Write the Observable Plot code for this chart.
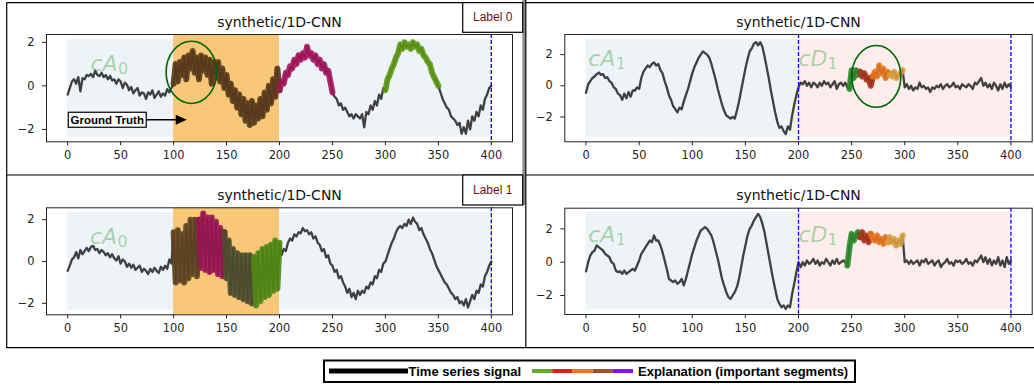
<!DOCTYPE html>
<html><head><meta charset="utf-8">
<script src="https://cdn.jsdelivr.net/npm/d3@7"></script>
<script src="https://cdn.jsdelivr.net/npm/@observablehq/plot@0.6"></script>
<style>
body{margin:0;background:#fff;}
#root{position:relative;width:1034px;height:385px;overflow:hidden;background:#fff;}
#root svg{position:absolute;}
</style></head><body><div id="root"></div><script>
// ---------- data ----------
const timeSteps = d3.range(0, 401, 2);
const xTicks = [0, 50, 100, 150, 200, 250, 300, 350, 400];
const yTicks = [-2, 0, 2];
const titleText = "synthetic/1D-CNN";

// top-left (Label 0), cA0
const signalA = [
 -0.4,-0.1,0.2,0.3,0.1,0.4,-0.25,0.35,0.3,0.5,
 0.45,0.55,0.4,0.7,0.5,0.45,0.6,0.4,0.5,0.3,
 0.45,0.25,0.3,0.1,0.3,0.2,-0.1,0.15,0.05,-0.2,
 -0.05,-0.35,-0.2,-0.1,-0.45,-0.3,-0.35,-0.6,-0.3,-0.4,
 -0.2,-0.55,-0.4,-0.25,-0.5,-0.35,-0.45,-0.15,-0.3,-0.1,
 0.1,1.0,0.2,1.1,0.5,1.3,0.3,1.4,0.8,1.6,
 0.6,1.3,0.3,1.4,0.7,1.3,0.5,1.2,0.1,1.1,
 0.4,1.1,0.2,0.8,-0.1,0.5,-0.4,0.1,-0.7,-0.2,
 -1.0,-0.4,-1.3,-0.6,-1.6,-0.8,-1.8,-0.7,-1.7,-0.9,
 -1.5,-0.6,-1.4,-0.3,-1.1,0.0,-0.8,0.3,-0.5,0.8,
 -0.2,0.2,0.1,0.6,0.5,0.9,0.8,1.2,1.0,1.4,
 1.2,1.5,1.3,1.8,1.4,1.5,1.2,1.4,1.0,1.2,
 0.8,1.0,0.6,0.7,0.2,-0.3,-0.5,-0.6,-0.9,-0.8,
 -1.1,-1.0,-1.2,-1.4,-1.3,-1.5,-1.3,-1.4,-1.5,-1.3,
 -1.9,-1.2,-1.3,-0.9,-1.1,-0.7,-0.9,-0.4,-0.6,-0.1,
 -0.2,0.3,0.5,0.8,1.0,1.3,1.5,1.9,1.7,2.0,
 1.8,1.9,1.7,2.0,1.8,1.9,1.6,1.7,1.4,1.3,
 1.1,1.0,0.6,0.4,0.2,0.0,-0.3,-0.6,-0.8,-1.0,
 -1.1,-1.4,-1.5,-1.6,-1.8,-1.7,-2.2,-1.9,-2.2,-1.6,
 -2.0,-1.4,-1.6,-1.2,-1.4,-0.9,-1.1,-0.6,-0.4,-0.1,
 0.0];

// top-right (cA1 | cD1)
const signalB = [
 -0.45,0.1,0.3,0.5,0.6,0.75,0.85,0.7,0.75,0.5,
 0.55,0.3,0.2,-0.1,-0.2,-0.5,-0.6,-0.9,-0.5,-0.8,
 -0.4,-0.7,-0.3,-0.3,-0.1,-0.2,0.5,0.9,1.1,1.3,
 1.2,1.4,1.5,1.3,1.4,1.0,0.8,0.3,-0.1,-0.6,
 -0.9,-1.3,-1.5,-1.7,-1.4,-1.5,-1.0,-0.6,-0.2,0.3,
 0.8,1.2,1.5,1.8,2.0,2.2,2.1,2.0,1.8,1.4,
 0.9,0.4,-0.2,-0.7,-1.2,-1.6,-1.9,-2.0,-2.1,-2.0,
 -2.1,-1.6,-1.0,-0.3,0.4,1.1,1.7,2.2,2.4,2.7,
 2.8,2.6,2.8,2.5,1.9,1.2,0.5,-0.3,-1.0,-1.7,
 -2.3,-2.7,-2.6,-2.9,-3.1,-2.6,-2.8,-1.9,-1.2,-0.6,
 -0.1,0.2,0.1,0.3,0.0,0.2,-0.1,0.2,0.1,-0.1,
 0.2,0.0,0.3,0.1,0.2,-0.1,0.1,0.3,-0.2,0.1,
 0.2,0.0,0.2,-0.1,-0.2,1.0,0.5,1.0,0.7,0.9,
 0.6,0.8,0.4,0.5,0.0,0.6,0.9,0.6,1.3,0.8,
 1.1,0.5,0.9,0.7,0.6,0.9,0.5,0.7,0.8,1.0,
 -0.1,0.1,-0.2,0.0,-0.3,-0.1,-0.2,0.2,-0.1,0.0,
 -0.2,-0.1,-0.4,-0.1,-0.2,0.0,-0.1,0.1,-0.2,0.0,
 0.1,-0.1,0.0,0.2,-0.1,0.0,-0.2,0.1,0.0,-0.1,
 0.1,0.0,-0.2,0.2,0.1,0.3,0.5,0.0,0.2,-0.1,
 0.1,-0.2,0.2,0.0,-0.3,0.1,-0.2,0.2,-0.1,0.1,
 -0.1];

// bottom-left (Label 1), cA0
const signalC = [
 -0.45,-0.2,0.1,0.2,0.45,0.15,0.55,0.35,0.5,0.65,
 0.5,0.7,0.75,0.55,0.6,0.4,0.55,0.45,0.3,0.4,
 0.2,0.35,0.15,0.05,0.25,-0.1,0.1,0.0,-0.25,-0.1,
 -0.3,-0.15,-0.4,-0.3,-0.2,-0.5,-0.35,-0.45,-0.6,-0.35,
 -0.5,-0.3,-0.45,-0.55,-0.25,-0.4,-0.2,-0.35,0.1,-0.1,
 1.4,-1.0,1.5,-0.9,1.3,-1.0,1.7,-0.8,2.0,-0.6,
 2.0,-0.7,2.0,-0.3,2.3,-0.4,2.1,-0.5,2.1,-0.4,
 1.9,-0.6,1.6,-0.7,1.4,-0.8,1.0,-1.5,0.6,-1.6,
 0.4,-1.7,0.3,-1.8,0.3,-1.9,0.3,-2.0,0.2,-2.1,
 0.4,-1.9,0.6,-1.7,0.7,-1.6,0.8,-1.4,1.0,-1.3,
 0.9,0.3,0.6,0.5,0.9,1.1,1.0,1.3,1.2,1.4,
 1.35,1.6,1.45,1.5,1.3,1.4,1.1,1.2,0.9,0.8,
 0.5,0.6,0.2,0.3,-0.1,-0.2,-0.5,-0.4,-0.8,-0.7,
 -1.0,-1.2,-1.5,-1.3,-1.7,-1.5,-1.8,-1.4,-1.6,-1.4,
 -1.5,-1.2,-1.3,-1.0,-1.1,-0.7,-0.8,-0.4,-0.5,-0.1,
 0.0,0.3,0.6,0.9,1.1,1.4,1.6,1.7,1.6,1.8,
 1.7,2.0,1.8,2.1,1.9,1.8,1.5,1.6,1.3,1.1,
 0.9,0.6,0.4,0.1,-0.2,-0.4,-0.6,-0.8,-1.0,-1.1,
 -1.3,-1.5,-1.6,-1.8,-1.7,-2.0,-1.9,-2.1,-1.8,-2.2,
 -1.9,-1.6,-1.8,-1.4,-1.5,-1.1,-1.2,-0.7,-0.5,-0.2,
 0.0];

// bottom-right (cA1 | cD1)
const signalD = [
 -0.55,0.0,0.4,0.6,0.7,1.0,0.9,0.8,0.7,0.5,
 0.4,0.3,0.0,-0.1,-0.5,-0.6,-0.55,-0.7,-0.5,-0.7,
 -0.6,-0.5,-0.4,-0.5,-0.2,0.1,0.5,0.7,0.9,1.1,
 1.3,1.2,1.6,1.3,1.3,1.0,0.6,0.1,-0.4,-1.0,
 -1.1,-1.2,-1.1,-1.3,-1.2,-1.0,-1.4,-1.0,-0.5,0.0,
 0.5,0.9,1.3,1.6,1.9,2.0,2.1,2.0,1.8,1.6,
 1.2,0.7,0.2,-0.4,-1.0,-1.4,-1.8,-2.1,-2.2,-2.0,
 -1.8,-1.5,-1.0,-0.3,0.4,1.0,1.6,2.0,2.2,2.5,
 2.7,2.9,2.7,2.3,1.8,1.1,0.4,-0.3,-1.0,-1.6,
 -2.2,-2.5,-2.7,-2.6,-2.8,-2.6,-2.7,-1.9,-1.3,-0.6,
 0.0,-0.3,0.0,-0.2,0.1,-0.1,0.0,0.2,-0.1,0.1,
 -0.2,0.0,-0.1,0.2,0.0,-0.2,0.1,-0.1,0.2,-0.1,
 0.0,0.1,0.0,-0.2,0.9,1.7,1.3,1.6,1.8,1.5,
 1.8,1.3,1.6,1.2,1.7,1.4,1.3,1.6,1.2,1.4,
 1.1,1.5,1.2,1.5,1.2,1.4,1.0,1.3,1.1,1.6,
 0.0,0.1,-0.1,0.1,-0.1,0.0,0.1,-0.2,0.1,0.0,
 0.2,-0.1,0.0,0.1,-0.2,0.0,0.1,-0.3,-0.1,0.0,
 0.2,-0.1,0.0,-0.2,0.1,0.0,0.1,-0.1,0.0,0.2,
 -0.1,0.0,-0.2,0.1,0.0,0.2,0.4,0.0,0.3,-0.1,
 0.2,-0.2,0.1,-0.1,0.3,-0.2,0.1,-0.3,0.3,-0.1,
 0.1];

// important segments (explanations)
const segmentsA = [{from:100,to:200,color:"#5a3a1a"},{from:200,to:250,color:"#a3135c"},{from:300,to:350,color:"#5c9812"}];
const segmentsB = [{from:248,to:258,color:"#2a8a2a"},{from:258,to:270,color:"#a83218"},{from:270,to:286,color:"#e8741a"},{from:286,to:298,color:"#d9a040"}];
const segmentsC = [{from:100,to:124,color:"#5e4220"},{from:124,to:148,color:"#9a1353"},{from:148,to:176,color:"#4c4c2e"},{from:176,to:200,color:"#4f8a14"}];
const segmentsD = [{from:246,to:258,color:"#2a8a2a"},{from:258,to:268,color:"#a83218"},{from:268,to:284,color:"#e8741a"},{from:284,to:298,color:"#d9a040"}];

// legend
const legendColors = ["#62ac28","#e8181a","#ff7212","#a0522d","#8010ff"];

[signalA, signalB, signalC, signalD].forEach((s, i) => { if (s.length !== timeSteps.length) throw new Error("length mismatch " + i + ": " + s.length); });

// ---------- panels ----------
const BLUE = "#eef3f8", PINK = "#fdeeed", ORANGE = "#f8c878";
const panels = [
 {left:0, top:0, width:520, height:175, mt:34, mb:33.7, ml:46, mr:8, yDomain:[-2.57,2.36], values:signalA, segments:segmentsA,
  regions:[{x1:0,x2:400,y1:-2.36,y2:2.13,fill:BLUE},{x1:100,x2:200,y1:-2.57,y2:2.36,fill:ORANGE}], dashed:[400],
  labels:[{x:21.5,y:0.70,text:"cA",sub:"0",dx:27.5}], ellipse:{cx:117.3,cy:0.6,rx:23.9,ry:1.43}, ground:{x:1,y:-1.58,tip:112.9}},
 {left:520, top:0, width:514, height:175, mt:34, mb:33.7, ml:44.3, mr:2.3, yDomain:[-3.59,3.29], values:signalB, segments:segmentsB,
  regions:[{x1:0,x2:200,y1:-3.30,y2:2.97,fill:BLUE},{x1:200,x2:400,y1:-3.30,y2:2.97,fill:PINK}], dashed:[200,400],
  labels:[{x:2,y:1.24,text:"cA",sub:"1",dx:27.5},{x:200,y:1.24,text:"cD",sub:"1",dx:29}], ellipse:{cx:273.7,cy:0.57,rx:23.1,ry:1.98}},
 {left:0, top:175, width:520, height:175, mt:32.3, mb:35.7, ml:46, mr:8, yDomain:[-2.55,2.57], values:signalC, segments:segmentsC,
  regions:[{x1:0,x2:400,y1:-2.33,y2:2.34,fill:BLUE},{x1:100,x2:200,y1:-2.55,y2:2.57,fill:ORANGE}], dashed:[400],
  labels:[{x:21,y:0.85,text:"cA",sub:"0",dx:27.5}]},
 {left:520, top:175, width:514, height:175, mt:32.7, mb:36, ml:44.3, mr:2.3, yDomain:[-3.14,3.24], values:signalD, segments:segmentsD,
  regions:[{x1:0,x2:200,y1:-2.86,y2:2.98,fill:BLUE},{x1:200,x2:400,y1:-2.86,y2:2.98,fill:PINK}], dashed:[200,400],
  labels:[{x:2,y:1.24,text:"cA",sub:"1",dx:27.5},{x:200,y:1.24,text:"cD",sub:"1",dx:29}]}
];

const NS = "http://www.w3.org/2000/svg";
function el(name, attrs) { const e = document.createElementNS(NS, name); for (const k in attrs) e.setAttribute(k, attrs[k]); return e; }
const fmtTick = d => String(d).replace("-", "\u2212");

function ellipseMark(e) {
  return (index, scales) => {
    const x = scales.x, y = scales.y;
    return el("ellipse", {cx: x(e.cx), cy: y(e.cy), rx: Math.abs(x(e.cx + e.rx) - x(e.cx)), ry: Math.abs(y(e.cy + e.ry) - y(e.cy)),
      fill: "none", stroke: "#006400", "stroke-width": 1.6});
  };
}
function groundMark(g) {
  return (index, scales) => {
    const x0 = scales.x(g.x), y0 = scales.y(g.y), xt = scales.x(g.tip);
    const grp = el("g", {});
    const w = 78, h = 15;
    grp.appendChild(el("line", {x1: x0 + w, x2: xt - 10, y1: y0, y2: y0, stroke: "#000", "stroke-width": 1.5}));
    grp.appendChild(el("polygon", {points: `${xt},${y0} ${xt-11},${y0-5} ${xt-11},${y0+5}`, fill: "#000"}));
    grp.appendChild(el("rect", {x: x0, y: y0 - h/2, width: w, height: h, fill: "#fff", stroke: "#000", "stroke-width": 1.2}));
    const t = el("text", {x: x0 + w/2, y: y0 + 4.2, "text-anchor": "middle", "font-family": "Liberation Sans, Arial, sans-serif", "font-weight": "bold", "font-size": 11.5, fill: "#000"});
    t.textContent = "Ground Truth";
    grp.appendChild(t);
    return grp;
  };
}

const root = document.getElementById("root");

for (const p of panels) {
  const data = timeSteps.map((t, i) => ({t, v: p.values[i]}));
  const marks = [];
  for (const r of p.regions) marks.push(Plot.rect([r], {x1: "x1", x2: "x2", y1: "y1", y2: "y2", fill: r.fill}));
  marks.push(Plot.line(data, {x: "t", y: "v", stroke: "#404040", strokeWidth: 2.3}));
  for (const s of p.segments) {
    marks.push(Plot.line(data.filter(d => d.t >= s.from && d.t <= s.to), {x: "t", y: "v", stroke: s.color, strokeWidth: 6, strokeOpacity: 0.9, strokeLinejoin: "round"}));
  }
  marks.push(Plot.ruleX(p.dashed, {stroke: "#0000ff", strokeWidth: 1.3, strokeDasharray: "4,2"}));
  for (const lab of p.labels) {
    marks.push(Plot.text([lab], {x: "x", y: "y", text: "text", textAnchor: "start", lineAnchor: "bottom", fontSize: 22, fontStyle: "italic", fill: "#2ca02c", fillOpacity: 0.4}));
    marks.push(Plot.text([lab], {x: "x", y: "y", text: "sub", textAnchor: "start", lineAnchor: "bottom", dx: lab.dx, dy: 3, fontSize: 16, fill: "#2ca02c", fillOpacity: 0.4}));
  }
  if (p.ellipse) marks.push(ellipseMark(p.ellipse));
  if (p.ground) marks.push(groundMark(p.ground));
  marks.push(Plot.text([titleText], {text: d => d, frameAnchor: "top", lineAnchor: "bottom", dy: -8, fontSize: 14, fill: "#111"}));
  marks.push(Plot.frame({stroke: "#222", strokeWidth: 1}));

  const svg = Plot.plot({
    width: p.width, height: p.height,
    marginLeft: p.ml, marginRight: p.mr, marginTop: p.mt, marginBottom: p.mb,
    x: {domain: [-20, 420], ticks: xTicks, tickSize: 4, tickPadding: 5, label: null, tickFormat: fmtTick},
    y: {domain: p.yDomain, ticks: yTicks, tickSize: 4, tickPadding: 8, label: null, tickFormat: fmtTick},
    style: {fontFamily: "DejaVu Sans", fontSize: "11.4px", color: "#222", background: "none", overflow: "visible"},
    marks
  });
  svg.style.left = p.left + "px";
  svg.style.top = p.top + "px";
  root.appendChild(svg);
}

// ---------- overlay: panel borders, label boxes, legend ----------
const ov = d3.create("svg").attr("width", 1034).attr("height", 385).style("left", "0px").style("top", "0px");
const L = (x1, y1, x2, y2, c = "#000", w = 1.2) => ov.append("line").attr("x1", x1).attr("y1", y1).attr("x2", x2).attr("y2", y2).attr("stroke", c).attr("stroke-width", w);
L(6.7, 2.6, 1034, 2.6);
L(6.7, 2.6, 6.7, 348);
L(6.7, 175, 1034, 175);
L(6.7, 347.7, 1034, 347.7);
ov.append("rect").attr("x", 522.4).attr("y", 0).attr("width", 3).attr("height", 205).attr("fill", "#8c8c8c");
L(525.8, 0, 525.8, 348);

const labelBoxes = [{y: 2.6, h: 29.7, text: "Label 0", base: 21}, {y: 175, h: 30, text: "Label 1", base: 193.8}];
for (const b of labelBoxes) {
  ov.append("rect").attr("x", 462.7).attr("y", b.y).attr("width", 60).attr("height", b.h).attr("fill", "#fff").attr("stroke", "#000").attr("stroke-width", 1.2);
  ov.append("text").attr("x", 492.7).attr("y", b.base).attr("text-anchor", "middle").attr("font-family", "Liberation Sans, Arial, sans-serif").attr("font-size", 12).attr("fill", "#7a1010").text(b.text);
}

ov.append("rect").attr("x", 324).attr("y", 360.5).attr("width", 531).attr("height", 21.5).attr("fill", "#fff").attr("stroke", "#000").attr("stroke-width", 2);
L(329, 371, 408, 371, "#000", 5);
ov.append("text").attr("x", 408.5).attr("y", 375.8).attr("font-family", "Liberation Sans, Arial, sans-serif").attr("font-weight", "bold").attr("font-size", 13).attr("fill", "#000").text("Time series signal");
legendColors.forEach((c, i) => L(532 + i * 20.2, 371, 532 + (i + 1) * 20.2, 371, c, 4));
ov.append("text").attr("x", 638).attr("y", 375.8).attr("font-family", "Liberation Sans, Arial, sans-serif").attr("font-weight", "bold").attr("font-size", 13).attr("fill", "#000").text("Explanation (important segments)");
root.appendChild(ov.node());
</script></body></html>
